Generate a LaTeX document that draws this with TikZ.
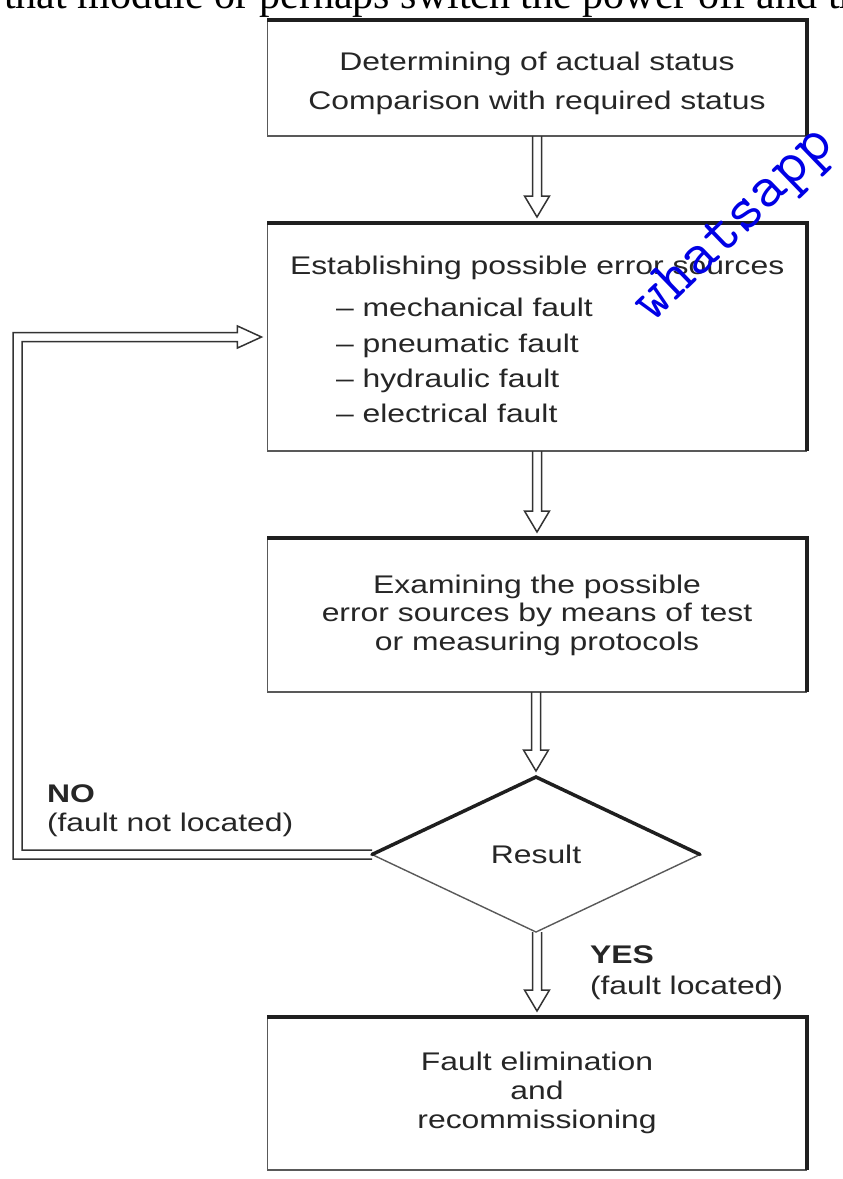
\documentclass[tikz,border=0pt]{standalone}
\usepackage{fontspec}
\usetikzlibrary{shapes.geometric,calc}
\newfontfamily\dfont[FakeStretch=1.25]{Liberation Sans}
\newfontfamily\serifx{Liberation Serif}
\newcommand\hollowdown[2]{%
  \draw[arrline] let \p1=(#1), \p2=(#2) in
    (\x2-4.5bp,\y1) -- (\x2-4.5bp,\y2+27bp) -- (\x2-12.5bp,\y2+27bp) --
    (\x2,\y2+6bp) -- (\x2+12.5bp,\y2+27bp) -- (\x2+4.5bp,\y2+27bp) --
    (\x2+4.5bp,\y1);}
\begin{document}
\begin{tikzpicture}[x=1bp,y=-1bp,
  boxnode/.style={draw=black!65, line width=1.5bp, rectangle,
    minimum width=539bp, inner sep=0pt, outer sep=0pt},
  thickedge/.style={draw=black!88, line width=4bp, line join=miter},
  arrline/.style={draw=black!80, line width=1.5bp, line join=miter},
  txt/.style={text=black!85, inner sep=0pt, outer sep=0pt},
  f39/.style={font=\dfont\fontsize{25.5bp}{39bp}\selectfont},
  f35/.style={font=\dfont\fontsize{25.5bp}{35.3bp}\selectfont},
  f29/.style={font=\dfont\fontsize{25.5bp}{29bp}\selectfont},
  f28/.style={font=\dfont\fontsize{25.5bp}{28.5bp}\selectfont},
  f31/.style={font=\dfont\fontsize{25.5bp}{31bp}\selectfont},
]
\useasboundingbox (0,0) rectangle (843,1179);
\fill[white] (0,0) rectangle (843,1179);
\clip (0,0) rectangle (843,1179);

% cropped line of text at the top
\node[font=\serifx\fontsize{42bp}{42bp}\selectfont, anchor=base west,
  inner sep=0pt, text=black] (toptext) at (4,8)
  {that module or perhaps switch the power off and th};

% boxes
\node[boxnode, minimum height=116bp] (b1) at (537,78) {};
\node[boxnode, minimum height=228bp] (b2) at (537,337) {};
\node[boxnode, minimum height=154bp] (b3) at (537,615) {};
\node[boxnode, minimum height=153bp] (b4) at (537,1093.5) {};
\foreach \b in {b1,b2,b3,b4}
  \draw[thickedge] (\b.north west) -- (\b.north east) -- (\b.south east);

% decision diamond
\node[diamond, draw=black!65, line width=1.4bp, minimum width=328bp,
  minimum height=155bp, inner sep=0pt, outer sep=0pt, txt, f29] (d) at (536,854.5) {Result};
\draw[thickedge, line width=3.5bp, line cap=round] (d.west) -- (d.north) -- (d.east);

% texts
\node[txt, f39, align=center] (t1) at (537,83)
  {Determining of actual status\\Comparison with required status};
\node[txt, f35, align=left, anchor=north west] (t2) at (290,256.4)
  {Establishing possible error sources\\[6.7bp]
   \hspace*{46bp}– mechanical fault\\
   \hspace*{46bp}– pneumatic fault\\
   \hspace*{46bp}– hydraulic fault\\
   \hspace*{46bp}– electrical fault};
\node[txt, f28, align=center] (t3) at (537,615)
  {Examining the possible\\error sources by means of test\\or measuring protocols};
\node[txt, f29, align=center] (t4) at (537,1092.4)
  {Fault elimination\\and\\recommissioning};
\node[txt, f29, align=left, anchor=north west] (no) at (47,784.5)
  {\textbf{NO}\\(fault not located)};
\node[txt, f31, align=left, anchor=north west] (yes) at (590,945.7)
  {\textbf{YES}\\(fault located)};

% hollow arrows
\hollowdown{b1.south}{b2.north}
\hollowdown{b2.south}{b3.north}
\hollowdown{b3.south}{d.north}
\hollowdown{d.south}{b4.north}

% loop back: NO
\draw[arrline] let \p1=(d.west), \p2=(b2.west) in
  (\x1,\y1-4.5bp) -- (13bp,\y1-4.5bp) -- (13bp,\y2+4.5bp) --
  (\x2-30bp,\y2+4.5bp) -- (\x2-30bp,\y2+11bp) -- (\x2-6bp,\y2) --
  (\x2-30bp,\y2-11bp) -- (\x2-30bp,\y2-4.5bp) -- (22bp,\y2-4.5bp) --
  (22bp,\y1+4.5bp) -- (\x1,\y1+4.5bp);

% watermark
\node[text=blue!90!black, font=\ttfamily\fontsize{62bp}{62bp}\selectfont,
  rotate=44, anchor=base west, inner sep=0pt] (wm) at (652,324) {whatsapp};
\end{tikzpicture}
\end{document}
